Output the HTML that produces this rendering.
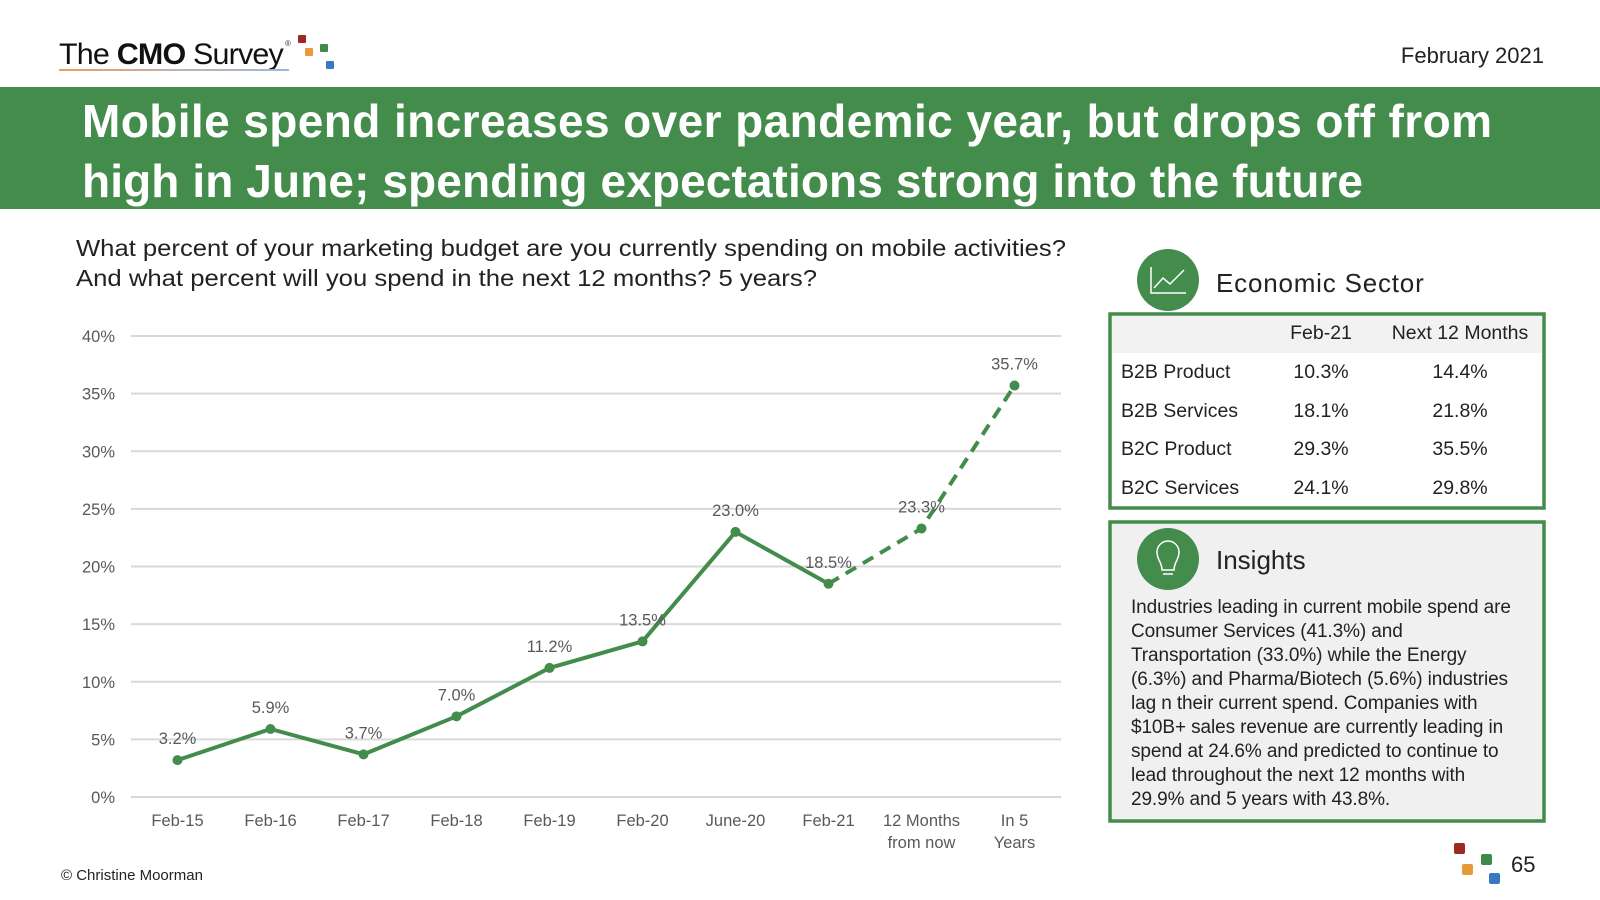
<!DOCTYPE html>
<html><head><meta charset="utf-8"><style>
html,body{margin:0;padding:0;background:#fff;}
svg{display:block;font-family:"Liberation Sans",sans-serif;}
</style></head><body>
<svg id="page" width="1600" height="900" viewBox="0 0 1600 900">
<defs><linearGradient id="ug" x1="0" x2="1"><stop offset="0" stop-color="#e8a060"/><stop offset="0.5" stop-color="#c0b0b0"/><stop offset="1" stop-color="#9ab8d8"/></linearGradient></defs>
<g>
<text x="59" y="64" font-size="30" fill="#111" letter-spacing="-0.8" textLength="224" lengthAdjust="spacingAndGlyphs">The <tspan font-weight="bold">CMO</tspan> Survey</text>
<text x="285" y="46" font-size="8" fill="#333">®</text>
<rect x="59" y="69" width="230" height="2" fill="url(#ug)"/>
<rect x="298" y="35" width="8" height="8" rx="1" fill="#9b2a22"/>
<rect x="305" y="48" width="8" height="8" rx="1" fill="#e8993c"/>
<rect x="320" y="44" width="8" height="8" rx="1" fill="#3f8a4a"/>
<rect x="326" y="61" width="8" height="8" rx="1" fill="#3b78c2"/>
</g>
<text x="1544" y="63" font-size="22" fill="#222" text-anchor="end">February 2021</text>
<rect x="0" y="87" width="1600" height="122" fill="#448c4c"/>
<text x="82" y="137" font-size="46" font-weight="bold" fill="#fff" textLength="1410" lengthAdjust="spacing">Mobile spend increases over pandemic year, but drops off from</text>
<text x="82" y="197" font-size="46" font-weight="bold" fill="#fff" textLength="1281" lengthAdjust="spacing">high in June; spending expectations strong into the future</text>
<text x="76" y="256" font-size="23.5" fill="#222" textLength="990" lengthAdjust="spacingAndGlyphs">What percent of your marketing budget are you currently spending on mobile activities?</text>
<text x="76" y="286" font-size="23.5" fill="#222" textLength="741" lengthAdjust="spacingAndGlyphs">And what percent will you spend in the next 12 months? 5 years?</text>
<g id="chart"></g>

<g>
<circle cx="1168" cy="280" r="31" fill="#448c4c"/>
<polyline points="1151,267 1151,293 1186,293" fill="none" stroke="#fff" stroke-width="1.5"/>
<polyline points="1154,288 1163,278 1170,284 1184,270" fill="none" stroke="#fff" stroke-width="1.5"/>
<text x="1216" y="292" font-size="26" fill="#222" letter-spacing="0.8">Economic Sector</text>
<rect x="1110" y="314" width="434" height="194" fill="#fff" stroke="#448c4c" stroke-width="3.5"/>
<rect x="1112" y="316" width="430" height="37" fill="#f2f2f2"/>
<g font-size="19.5" fill="#222">
<text x="1321" y="339" text-anchor="middle">Feb-21</text>
<text x="1460" y="339" text-anchor="middle">Next 12 Months</text>
<text x="1121" y="378">B2B Product</text><text x="1321" y="378" text-anchor="middle">10.3%</text><text x="1460" y="378" text-anchor="middle">14.4%</text>
<text x="1121" y="417">B2B Services</text><text x="1321" y="417" text-anchor="middle">18.1%</text><text x="1460" y="417" text-anchor="middle">21.8%</text>
<text x="1121" y="455">B2C Product</text><text x="1321" y="455" text-anchor="middle">29.3%</text><text x="1460" y="455" text-anchor="middle">35.5%</text>
<text x="1121" y="494">B2C Services</text><text x="1321" y="494" text-anchor="middle">24.1%</text><text x="1460" y="494" text-anchor="middle">29.8%</text>
</g></g>

<g>
<rect x="1110" y="522" width="434" height="299" fill="#f0f0f0" stroke="#448c4c" stroke-width="3.5"/>
<circle cx="1168" cy="559" r="31" fill="#448c4c"/>
<path d="M1162,570 C1162,562 1157,560 1157,552 A11,11 0 0 1 1179,552 C1179,560 1174,562 1174,570 Z" fill="none" stroke="#fff" stroke-width="1.5"/>
<line x1="1163" y1="574" x2="1173" y2="574" stroke="#fff" stroke-width="1.5"/>
<text x="1216" y="569" font-size="26" fill="#222">Insights</text>
<g font-size="19" fill="#222" letter-spacing="-0.1">
<text x="1131" y="613">Industries leading in current mobile spend are</text>
<text x="1131" y="637">Consumer Services (41.3%) and</text>
<text x="1131" y="661">Transportation (33.0%) while the Energy</text>
<text x="1131" y="685">(6.3%) and Pharma/Biotech (5.6%) industries</text>
<text x="1131" y="709">lag n their current spend. Companies with</text>
<text x="1131" y="733">$10B+ sales revenue are currently leading in</text>
<text x="1131" y="757">spend at 24.6% and predicted to continue to</text>
<text x="1131" y="781">lead throughout the next 12 months with</text>
<text x="1131" y="805">29.9% and 5 years with 43.8%.</text>
</g></g>

<text x="61" y="880" font-size="15" fill="#222">© Christine Moorman</text>
<g>
<rect x="1454" y="843" width="11" height="11" rx="2" fill="#9b2a22"/>
<rect x="1462" y="864" width="11" height="11" rx="2" fill="#e8993c"/>
<rect x="1481" y="854" width="11" height="11" rx="2" fill="#3f8a4a"/>
<rect x="1489" y="873" width="11" height="11" rx="2" fill="#3b78c2"/>
</g>
<text x="1511" y="872" font-size="22" fill="#222">65</text>
</svg>
<script>
const categories = ["Feb-15","Feb-16","Feb-17","Feb-18","Feb-19","Feb-20","June-20","Feb-21","12 Months|from now","In 5|Years"];
const values = [3.2,5.9,3.7,7.0,11.2,13.5,23.0,18.5,23.3,35.7];
const solidCount = 8;
const yTicks = [0,5,10,15,20,25,30,35,40];

const NS = "http://www.w3.org/2000/svg";
const g = document.getElementById("chart");
const X0 = 131, X1 = 1061, Y0 = 797, Y1 = 336, YMAX = 40;
const bw = (X1 - X0) / categories.length;
function xs(i){ return X0 + bw * (i + 0.5); }
function ys(v){ return Y0 - (v / YMAX) * (Y0 - Y1); }
function mk(tag, attrs){ const e = document.createElementNS(NS, tag); for (const k in attrs) e.setAttribute(k, attrs[k]); g.appendChild(e); return e; }

yTicks.forEach(t => {
  const l = mk("line", {x1: X0, x2: X1, y1: ys(t), y2: ys(t), stroke: "#d9d9d9", "stroke-width": 2});
  
  
  const tx = mk("text", {x: 115, y: ys(t) + 6, "font-size": 16.5, fill: "#595959", "text-anchor": "end"});
  tx.textContent = t + "%";
  
  
});
categories.forEach((c, i) => {
  c.split("|").forEach((part, j) => {
    const tx = mk("text", {x: xs(i), y: 826 + j * 22, "font-size": 16.5, fill: "#595959", "text-anchor": "middle"});
    tx.textContent = part;
    
    
  });
});
const solidPts = values.slice(0, solidCount).map((v, i) => xs(i) + "," + ys(v)).join(" ");
const dashPts = values.slice(solidCount - 1).map((v, k) => xs(k + solidCount - 1) + "," + ys(v)).join(" ");
const ls = mk("polyline", {points: solidPts, fill: "none", stroke: "#448c4c", "stroke-width": 4, "stroke-linejoin": "round"});


const ld = mk("polyline", {points: dashPts, fill: "none", stroke: "#448c4c", "stroke-width": 4, "stroke-dasharray": "12,8"});


values.forEach((v, i) => {
  const p = mk("circle", {cx: xs(i), cy: ys(v), r: 5, fill: "#448c4c"});
  
  
  const tx = mk("text", {x: xs(i), y: ys(v) - 16, "font-size": 16.5, fill: "#595959", "text-anchor": "middle"});
  tx.textContent = v.toFixed(1) + "%";
  
  
});
</script>
</body></html>
